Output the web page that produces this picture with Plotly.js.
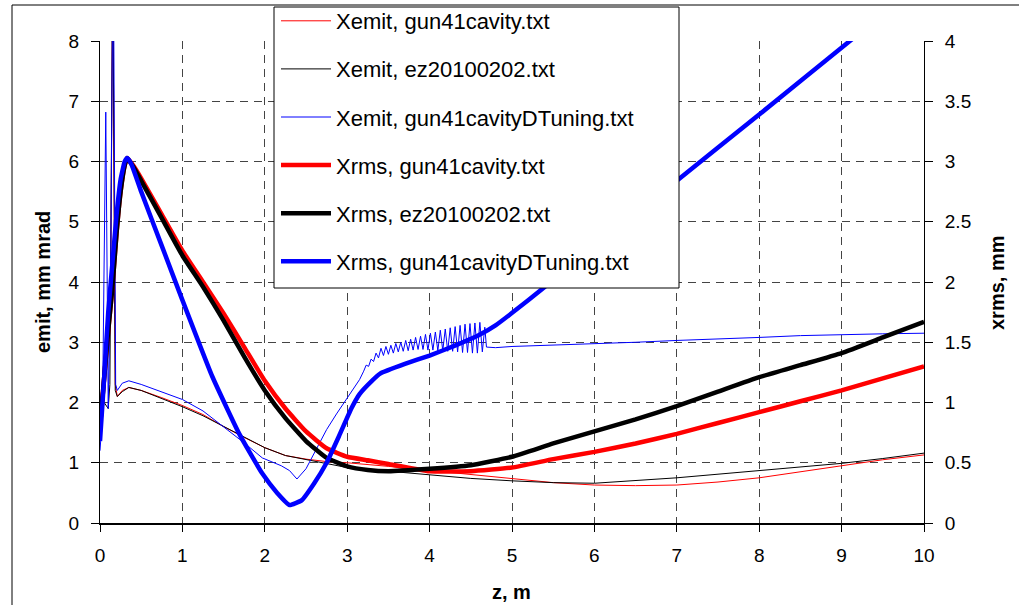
<!DOCTYPE html>
<html>
<head>
<meta charset="utf-8">
<script src="https://cdn.plot.ly/plotly-3.0.1.min.js"></script>
<style>html,body{margin:0;padding:0;background:#fff;}#chart{width:1019px;height:605px;}</style>
</head>
<body>
<div id="chart"></div>
<script>
// ---- Xemit (left axis, mm mrad) ----
const zEmitRed = [0,0.05,0.1,0.13,0.155,0.185,0.21,0.27,0.35,0.5,0.75,1.0,1.25,1.5,1.75,2.0,2.25,2.5,2.75,3.0,3.5,4.0,4.5,5.0,5.5,6.0,6.5,7.0,7.5,8.0,8.5,9.0,9.5,10.0];
const emitRed  = [2.0,2.5,3.5,4.1,9.5,2.3,2.1,2.2,2.25,2.2,2.08,1.95,1.8,1.6,1.42,1.25,1.12,1.06,1.02,1.0,0.94,0.87,0.8,0.73,0.67,0.63,0.62,0.63,0.68,0.75,0.85,0.96,1.05,1.13];

const zEmitBlack = [0,0.05,0.1,0.12,0.155,0.185,0.21,0.27,0.35,0.5,0.75,1.0,1.25,1.5,1.75,2.0,2.25,2.5,2.75,3.0,3.5,4.0,4.5,5.0,5.5,6.0,6.5,7.0,7.5,8.0,8.5,9.0,9.5,10.0];
const emitBlack  = [2.1,2.0,1.9,2.3,9.5,2.2,2.1,2.18,2.25,2.2,2.07,1.93,1.78,1.6,1.42,1.25,1.12,1.05,0.98,0.92,0.86,0.8,0.74,0.7,0.67,0.66,0.7,0.75,0.81,0.87,0.93,0.99,1.07,1.16];

const zEmitBlue = [0,0.03,0.07,0.1,0.13,0.16,0.19,0.21,0.27,0.35,0.5,0.75,1.0,1.25,1.57,1.75,1.97,2.2,2.3,2.39,2.5,2.62,2.75,2.87,3.0,3.15,
  3.20,3.23,3.26,3.29,3.32,3.35,3.38,3.41,3.44,3.47,3.50,3.53,3.56,3.59,3.62,3.65,3.68,3.71,3.74,3.77,3.80,3.83,3.86,3.89,3.92,3.95,3.98,4.01,4.04,4.07,4.10,4.13,4.16,4.19,4.22,4.25,4.28,4.31,4.34,4.37,4.40,4.43,4.46,4.49,4.52,4.55,4.58,4.61,4.64,4.67,
  4.69,4.8,5.0,5.5,6.0,6.5,7.0,7.5,8.0,8.5,9.0,9.5,10.0];
const emitBlue  = [1.2,1.8,6.82,1.9,4.2,10,2.3,2.2,2.32,2.36,2.3,2.17,2.05,1.86,1.53,1.33,1.08,0.95,0.87,0.73,0.9,1.2,1.55,1.81,2.08,2.38,
  2.52,2.62,2.60,2.72,2.68,2.82,2.74,2.90,2.78,2.93,2.80,2.95,2.82,2.98,2.84,3.00,2.85,3.03,2.86,3.05,2.87,3.08,2.88,3.10,2.88,3.13,2.87,3.15,2.87,3.17,2.86,3.20,2.86,3.22,2.85,3.24,2.85,3.26,2.84,3.28,2.83,3.30,2.83,3.31,2.82,3.32,2.82,3.33,2.84,3.25,
  2.92,2.91,2.93,2.95,2.98,3.0,3.03,3.05,3.08,3.11,3.13,3.14,3.15];

// ---- Xrms (right axis, mm) ----
const zRms = [0,0.1,0.15,0.2,0.25,0.3,0.33,0.4,0.5,0.75,1.0,1.25,1.5,1.75,2.0,2.25,2.5,2.75,3.0,3.25,3.5,4.0,4.5,5.0,5.5,6.0,6.5,7.0,7.5,8.0,8.5,9.0,9.5,10.0];
const rmsRed   = [0.8,1.6,1.95,2.4,2.75,2.97,3.03,2.97,2.86,2.56,2.26,2.0,1.74,1.46,1.18,0.95,0.76,0.62,0.55,0.52,0.49,0.43,0.43,0.46,0.53,0.59,0.66,0.74,0.83,0.92,1.01,1.10,1.20,1.30];
const rmsBlack = [0.8,1.6,1.95,2.4,2.75,2.97,3.03,2.96,2.84,2.53,2.22,1.96,1.68,1.38,1.1,0.87,0.68,0.54,0.47,0.44,0.43,0.45,0.48,0.55,0.66,0.76,0.86,0.97,1.09,1.21,1.31,1.41,1.54,1.67];

const zRmsBlue = [0,0.05,0.1,0.15,0.2,0.25,0.3,0.33,0.38,0.5,0.75,1.0,1.36,1.69,1.97,2.15,2.3,2.45,2.6,2.75,2.9,3.05,3.15,3.3,3.4,3.7,4.0,4.3,4.6,4.8,5.2,6.0,7.0,8.0,9.1,10.0];
const rmsBlue  = [0.68,1.2,1.75,2.15,2.55,2.85,3.0,3.03,2.98,2.75,2.3,1.85,1.22,0.74,0.41,0.25,0.15,0.19,0.33,0.5,0.72,0.95,1.07,1.18,1.24,1.32,1.39,1.47,1.56,1.64,1.85,2.29,2.84,3.39,4.0,4.5];

const seriesNames = ['Xemit, gun41cavity.txt','Xemit, ez20100202.txt','Xemit, gun41cavityDTuning.txt',
                     'Xrms, gun41cavity.txt','Xrms, ez20100202.txt','Xrms, gun41cavityDTuning.txt'];
const xTitle = 'z, m', yTitle = 'emit, mm mrad', y2Title = 'xrms, mm';

const RED = '#ff0000', BLACK = '#000000', BLUE = '#0000ff';
function tr(x, y, name, color, width, axis, grp, smooth){
  const line = {color: color, width: width};
  if (smooth) { line.shape = 'spline'; line.smoothing = 0.4; }
  return {x: x, y: y, name: name, type: 'scatter', mode: 'lines', yaxis: axis,
          line: line, legendgroup: grp, hoverinfo: 'skip'};
}
const data = [
  tr(zEmitRed, emitRed, seriesNames[0], RED, 1, 'y', 'g1', false),
  tr(zEmitBlack, emitBlack, seriesNames[1], BLACK, 1, 'y', 'g2', false),
  tr(zEmitBlue, emitBlue, seriesNames[2], BLUE, 1, 'y', 'g3', false),
  tr(zRms, rmsRed, seriesNames[3], RED, 4.5, 'y2', 'g4', true),
  tr(zRms, rmsBlack, seriesNames[4], BLACK, 4.5, 'y2', 'g5', true),
  tr(zRmsBlue, rmsBlue, seriesNames[5], BLUE, 4.5, 'y2', 'g6', true)
];

const L = 100, R = 95, T = 41, B = 82, W = 1019, H = 605;
const pw = W - L - R, ph = H - T - B;
const px2x = p => (p - L) / pw;
const py2y = p => (H - B - p) / ph;
const FONT = 'Liberation Sans, Arial, sans-serif';

const layout = {
  width: W, height: H,
  margin: {l: L, r: R, t: T, b: B, autoexpand: false},
  paper_bgcolor: '#ffffff', plot_bgcolor: '#ffffff',
  font: {family: FONT, size: 19, color: '#000'},
  showlegend: true,
  xaxis: {range: [0, 10], tick0: 0, dtick: 1, showgrid: true, gridcolor: '#444', griddash: '8px,6px', gridwidth: 1,
          showline: true, linecolor: '#000', linewidth: 2, ticks: 'outside', ticklen: 7, tickcolor: '#000',
          zeroline: false, ticklabelstandoff: 7, fixedrange: true},
  yaxis: {range: [0, 8], tick0: 0, dtick: 1, showgrid: true, gridcolor: '#444', griddash: '8px,6px', gridwidth: 1,
          showline: true, linecolor: '#000', linewidth: 1, ticks: 'outside', ticklen: 8, tickcolor: '#000',
          zeroline: false, ticklabelstandoff: 8, fixedrange: true},
  yaxis2: {range: [0, 4], tick0: 0, dtick: 0.5, overlaying: 'y', side: 'right', showgrid: false,
           showline: true, linecolor: '#000', linewidth: 1, ticks: 'outside', ticklen: 8, tickcolor: '#000',
           zeroline: false, ticklabelstandoff: 8, fixedrange: true},
  legend: {x: px2x(276), y: py2y(0), xanchor: 'left', yanchor: 'top', bgcolor: 'rgba(0,0,0,0)', borderwidth: 0,
           font: {size: 22, family: FONT}, traceorder: 'grouped', tracegroupgap: 16.5,
           itemwidth: 50},
  shapes: [
    {type: 'rect', xref: 'paper', yref: 'paper', x0: px2x(274), x1: px2x(679), y0: py2y(288), y1: py2y(7),
     fillcolor: '#fff', line: {color: '#000', width: 1}, layer: 'above'},
    {type: 'line', xref: 'paper', yref: 'paper', x0: px2x(12), x1: px2x(12), y0: py2y(620), y1: py2y(5),
     line: {color: '#000', width: 1}},
    {type: 'line', xref: 'paper', yref: 'paper', x0: px2x(12), x1: px2x(1030), y0: py2y(5), y1: py2y(5),
     line: {color: '#000', width: 1}}
  ],
  annotations: [
    {text: '<b>' + yTitle + '</b>', xref: 'paper', yref: 'paper', x: px2x(43), y: 0.5, showarrow: false,
     textangle: -90, font: {size: 20}, xanchor: 'center', yanchor: 'middle'},
    {text: '<b>' + y2Title + '</b>', xref: 'paper', yref: 'paper', x: px2x(997), y: 0.5, showarrow: false,
     textangle: -90, font: {size: 20}, xanchor: 'center', yanchor: 'middle'},
    {text: '<b>' + xTitle + '</b>', xref: 'paper', yref: 'paper', x: px2x(511), y: py2y(592), showarrow: false,
     font: {size: 20}, xanchor: 'center', yanchor: 'middle'}
  ]
};

Plotly.newPlot('chart', data, layout, {displayModeBar: false, staticPlot: true});
</script>
</body>
</html>
